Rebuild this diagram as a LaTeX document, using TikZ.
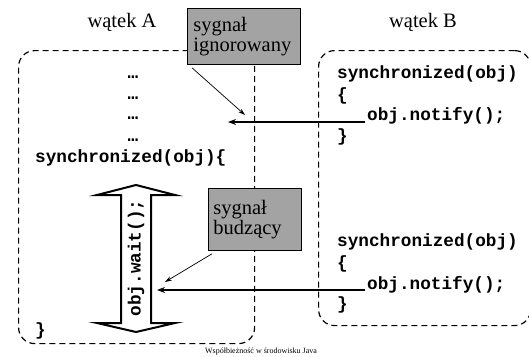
\documentclass[tikz,border=0pt]{standalone}
\usepackage{fontspec}
\setmainfont{Liberation Serif}
\newfontfamily\codefont{Liberation Mono Bold}[BoldFont={Liberation Mono Bold}]
\usetikzlibrary{arrows.meta}
\begin{document}
\begin{tikzpicture}[x=1pt,y=-1pt,
  code/.style={font=\codefont\bfseries\fontsize{17.7}{21}\selectfont, inner sep=0pt},
  lab/.style={font=\fontsize{20.5}{20}\selectfont, inner sep=0pt},
  thread/.style={draw, dash pattern=on 6pt off 4pt, line width=1.2pt, rounded corners=16pt, inner sep=0pt},
  signal/.style={draw, fill=gray!72!white, line width=0.8pt, align=left, anchor=north west,
    font=\fontsize{20.5}{20}\selectfont, inner ysep=0pt},
  msg/.style={-{Stealth[length=8pt,width=6pt]}, line width=1.4pt},
  hint/.style={-{Stealth[length=7pt,width=4.5pt]}, line width=0.7pt},
  dblarrow/.style={draw, fill=white, line width=2pt, line join=miter}]
\useasboundingbox (0,0) rectangle (529,356);

% thread boxes
\node[thread, anchor=north west, minimum width=236pt, minimum height=293pt] (boxA) at (18,50) {};
\node[thread, anchor=north west, minimum width=212pt, minimum height=275pt] (boxB) at (318,50) {};

% titles
\node[lab] (la) at (122,22) {wątek A};
\node[lab] (lb) at (423,22) {wątek B};

% thread A code
\node[code, anchor=base] (d1) at (133,78) {…};
\node[code, anchor=base] (d2) at (133,99) {…};
\node[code, anchor=base] (d3) at (133,119) {…};
\node[code, anchor=base] (d4) at (133,141) {…};
\node[code, anchor=mid west] (syA) at (35,160) {synchronized(obj)\{};
\node[code, anchor=mid west] (clA) at (35,333) {\}};

% thread B code (upper)
\node[code, anchor=mid west] (syB1) at (337,76) {synchronized(obj)};
\node[code, anchor=mid west] (opB1) at (337,98) {\{};
\node[code, anchor=mid west] (n1) at (367,118) {obj.notify();};
\node[code, anchor=mid west] (clB1) at (337,139) {\}};

% thread B code (lower)
\node[code, anchor=mid west] (syB2) at (337,244) {synchronized(obj)};
\node[code, anchor=mid west] (opB2) at (337,266) {\{};
\node[code, anchor=mid west] (n2) at (367,287) {obj.notify();};
\node[code, anchor=mid west] (clB2) at (337,307) {\}};

% wait double arrow
\draw[dblarrow] (121,323) -- (121,195) -- (97,195) -- (136,185) -- (175,195) -- (151,195)
  -- (151,323) -- (175,323) -- (136,332) -- (97,323) -- cycle;
\node[code, rotate=90] (wait) at (136,258) {obj.wait();};

% notify arrows
\coordinate (t1) at (228,122);
\coordinate (t2) at (157,290);
\draw[msg] ([xshift=-2pt]n1.west |- t1) -- (t1);
\draw[msg] ([xshift=-2pt]n2.west |- t2) -- (t2);

% signal boxes
\node[signal, minimum width=113pt, minimum height=56pt, text width=101pt, inner xsep=6pt] (sig1) at (187,8) {sygnał\\ignorowany};
\node[signal, minimum width=93pt, minimum height=62pt, text width=83pt, inner xsep=5pt] (sig2) at (208,188) {sygnał\\budzący};

% hint arrows
\coordinate (h1) at (245,115);
\coordinate (h2) at (165,282);
\draw[hint] ([xshift=5pt,yshift=-3pt]sig1.south west) -- (h1);
\draw[hint] ([xshift=4pt,yshift=-3pt]sig2.south west) -- (h2);

% caption
\node[font=\fontsize{8}{8}\selectfont, inner sep=0pt, anchor=base] (cap) at (261,353.5) {Współbieżność w środowisku Java};
\end{tikzpicture}
\end{document}
